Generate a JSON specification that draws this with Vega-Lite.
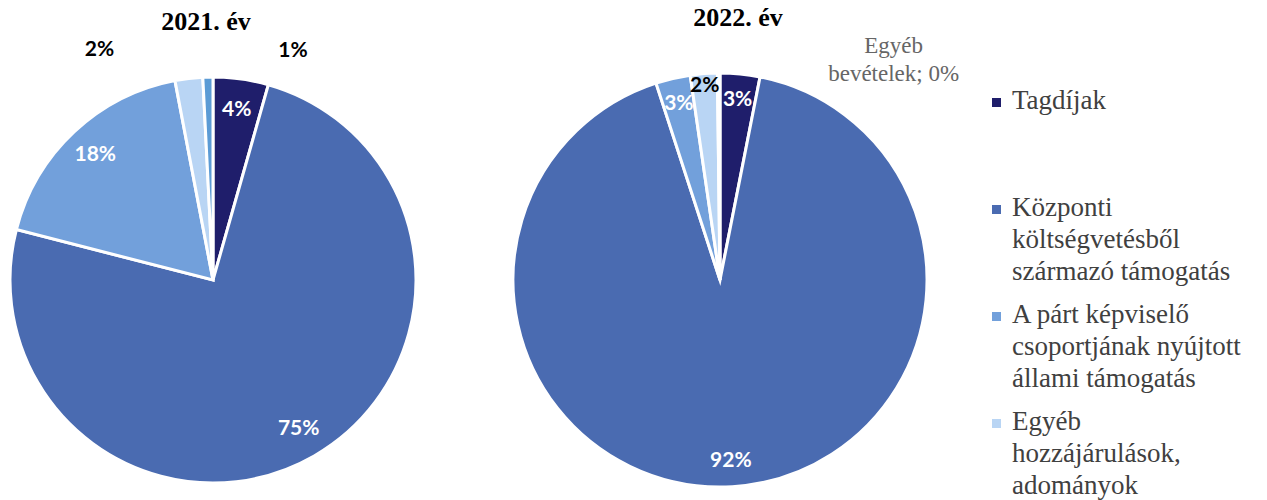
{
  "$schema": "https://vega.github.io/schema/vega-lite/v6.json",
  "background": "white",
  "padding": {"top": 5, "left": 0, "right": 0, "bottom": 0},
  "spacing": 0,
  "data": {
    "values": [
      {"year": "2021", "category": "Tagdíjak", "share": 0.044, "rank": 1},
      {"year": "2021", "category": "Központi költségvetésből származó támogatás", "share": 0.746, "rank": 2},
      {"year": "2021", "category": "A párt képviselő csoportjának nyújtott állami támogatás", "share": 0.180, "rank": 3},
      {"year": "2021", "category": "Egyéb hozzájárulások, adományok", "share": 0.022, "rank": 4},
      {"year": "2021", "category": "Egyéb bevételek", "share": 0.008, "rank": 5},
      {"year": "2022", "category": "Tagdíjak", "share": 0.031, "rank": 1},
      {"year": "2022", "category": "Központi költségvetésből származó támogatás", "share": 0.919, "rank": 2},
      {"year": "2022", "category": "A párt képviselő csoportjának nyújtott állami támogatás", "share": 0.027, "rank": 3},
      {"year": "2022", "category": "Egyéb hozzájárulások, adományok", "share": 0.021, "rank": 4},
      {"year": "2022", "category": "Egyéb bevételek", "share": 0.002, "rank": 5}
    ]
  },
  "resolve": {"scale": {"color": "shared", "theta": "independent"}, "legend": {"color": "shared"}},
  "hconcat": [
    {
      "width": 426,
      "height": 452,
      "title": {"text": "2021. év", "dx": -7},
      "transform": [{"filter": "datum.year === '2021'"}],
      "encoding": {
        "theta": {"field": "share", "type": "quantitative", "stack": true},
        "order": {"field": "rank", "type": "quantitative", "sort": "ascending"}
      },
      "layer": [
        {
          "mark": {"type": "arc", "outerRadius": 203, "stroke": "white", "strokeWidth": 3},
          "encoding": {
            "color": {
              "field": "category", "type": "nominal",
              "scale": {
                "domain": ["Tagdíjak", "Központi költségvetésből származó támogatás", "A párt képviselő csoportjának nyújtott állami támogatás", "Egyéb hozzájárulások, adományok", "Egyéb bevételek"],
                "range": ["#1F1E6B", "#4A6BB1", "#72A0DB", "#B9D5F4", "#5B9BD5"]
              },
              "legend": {
                "title": null,
                "orient": "none",
                "legendX": 983,
                "legendY": 17,
                "values": ["Tagdíjak", "Központi költségvetésből származó támogatás", "A párt képviselő csoportjának nyújtott állami támogatás", "Egyéb hozzájárulások, adományok"],
                "symbolType": "M-1,3L1,3L1,5L-1,5Z",
                "symbolSize": 81,
                "symbolStrokeWidth": 0,
                "labelFont": "Liberation Serif",
                "labelFontSize": 27,
                "labelColor": "#404040",
                "labelLimit": 400,
                "labelOffset": 2,
                "rowPadding": 0,
                "gridAlign": "all",
                "labelBaseline": "line-top",
                "labelExpr": "datum.label === 'Központi költségvetésből származó támogatás' ? ['Központi', 'költségvetésből', 'származó támogatás'] : datum.label === 'A párt képviselő csoportjának nyújtott állami támogatás' ? ['A párt képviselő', 'csoportjának nyújtott', 'állami támogatás'] : datum.label === 'Egyéb hozzájárulások, adományok' ? ['Egyéb', 'hozzájárulások,', 'adományok'] : datum.label"
              }
            }
          }
        },
        {
          "mark": {"type": "text", "radius": 172, "font": "Lato", "fontSize": 21, "fontWeight": "bold"},
          "encoding": {
            "detail": {"field": "category", "type": "nominal"},
            "color": {"value": "white"},
            "text": {"condition": {"test": "datum.share >= 0.03", "field": "share", "type": "quantitative", "format": ".0%"}, "value": ""}
          }
        },
        {
          "mark": {
            "type": "text", "font": "Lato", "fontSize": 21, "fontWeight": "bold",
            "radius": {"expr": "datum.share < 0.03 ? 240 : 0"},
            "dx": {"expr": "datum.category === 'Egyéb hozzájárulások, adományok' ? -85 : datum.category === 'Egyéb bevételek' ? 86 : 0"},
            "dy": {"expr": "datum.category === 'Egyéb hozzájárulások, adományok' ? 8 : datum.category === 'Egyéb bevételek' ? 11 : 0"}
          },
          "encoding": {
            "detail": {"field": "category", "type": "nominal"},
            "color": {"value": "black"},
            "text": {"condition": {"test": "datum.share < 0.03", "field": "share", "type": "quantitative", "format": ".0%"}, "value": ""}
          }
        }
      ]
    },
    {
      "width": 588,
      "height": 452,
      "title": {"text": "2022. év", "dx": 18},
      "transform": [{"filter": "datum.year === '2022'"}],
      "encoding": {
        "theta": {"field": "share", "type": "quantitative", "stack": true},
        "order": {"field": "rank", "type": "quantitative", "sort": "ascending"}
      },
      "layer": [
        {
          "mark": {"type": "arc", "outerRadius": 207, "stroke": "white", "strokeWidth": 3},
          "encoding": {
            "color": {"field": "category", "type": "nominal"}
          }
        },
        {
          "mark": {"type": "text", "radius": 181, "font": "Lato", "fontSize": 21, "fontWeight": "bold"},
          "encoding": {
            "detail": {"field": "category", "type": "nominal"},
            "color": {"value": "white"},
            "text": {"condition": {"test": "datum.share >= 0.025", "field": "share", "type": "quantitative", "format": ".0%"}, "value": ""}
          }
        },
        {
          "mark": {"type": "text", "radius": 195, "font": "Lato", "fontSize": 21, "fontWeight": "bold"},
          "encoding": {
            "detail": {"field": "category", "type": "nominal"},
            "color": {"value": "black"},
            "text": {"condition": {"test": "datum.category === 'Egyéb hozzájárulások, adományok'", "field": "share", "type": "quantitative", "format": ".0%"}, "value": ""}
          }
        },
        {
          "transform": [{"calculate": "replace(datum.category, ' ', '\\n') + '; ' + format(datum.share, '.0%')", "as": "callout"}],
          "mark": {
            "type": "text", "font": "Liberation Serif", "fontSize": 23, "lineBreak": "\n", "lineHeight": 28,
            "radius": {"expr": "datum.category === 'Egyéb bevételek' ? 215 : 0"},
            "dx": {"expr": "datum.category === 'Egyéb bevételek' ? 175 : 0"},
            "dy": {"expr": "datum.category === 'Egyéb bevételek' ? -19 : 0"}
          },
          "encoding": {
            "detail": {"field": "category", "type": "nominal"},
            "color": {"value": "#666666"},
            "text": {"condition": {"test": "datum.category === 'Egyéb bevételek'", "field": "callout", "type": "nominal"}, "value": ""}
          }
        }
      ]
    }
  ],
  "config": {
    "view": {"stroke": null},
    "concat": {"spacing": 0},
    "title": {"font": "Liberation Serif", "fontSize": 26, "fontWeight": "bold", "color": "black", "offset": 4, "anchor": "middle"},
    "style": {"guide-label": {"lineHeight": 32}}
  }
}
